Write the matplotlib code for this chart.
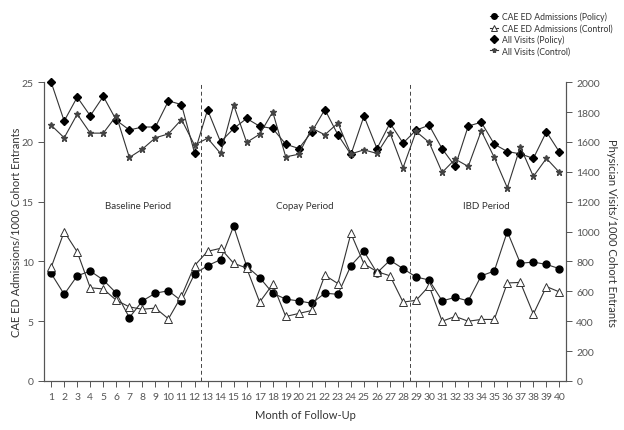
import numpy as np
import matplotlib
matplotlib.use("Agg")
import matplotlib.pyplot as plt

plt.rcParams['font.family'] = ['Lato', 'DejaVu Sans']

meses = list(range(1, 41))

# CAE ED admissions / 1000 cohort entrants (eje izquierdo)
cae_politica = [9.0, 7.25, 8.8, 9.2, 8.45, 7.35, 5.3, 6.7, 7.35, 7.55, 6.7, 8.95,
                9.65, 10.15, 12.95, 9.6, 8.65, 7.35, 6.85, 6.7, 6.5, 7.35, 7.25, 9.65,
                10.85, 9.05, 10.1, 9.4, 8.7, 8.45, 6.7, 7.0, 6.7, 8.8, 9.2, 12.5,
                9.85, 9.95, 9.75, 9.4]
cae_control = [9.5, 12.5, 10.8, 7.8, 7.7, 6.75, 6.2, 6.0, 6.1, 5.2, 7.1, 9.65,
               10.85, 11.1, 9.85, 9.45, 6.6, 8.1, 5.4, 5.65, 5.9, 8.85, 8.15, 12.35,
               9.8, 9.15, 8.8, 6.6, 6.75, 7.95, 5.0, 5.4, 5.0, 5.15, 5.15, 8.2,
               8.25, 5.6, 7.9, 7.45]

# Visitas médicas / 1000 cohort entrants (eje derecho)
visitas_politica = [2000, 1740, 1900, 1775, 1905, 1745, 1680, 1700, 1700, 1875, 1850, 1527,
                    1815, 1600, 1690, 1757, 1705, 1690, 1585, 1556, 1668, 1817, 1648, 1516,
                    1773, 1556, 1726, 1592, 1679, 1712, 1554, 1436, 1706, 1732, 1585, 1536,
                    1520, 1490, 1668, 1532]
visitas_control = [1712, 1628, 1786, 1659, 1659, 1775, 1496, 1552, 1628, 1654, 1750, 1579,
                   1625, 1523, 1848, 1597, 1652, 1801, 1500, 1518, 1692, 1648, 1726, 1520,
                   1547, 1523, 1659, 1427, 1670, 1597, 1396, 1485, 1436, 1674, 1496, 1293,
                   1567, 1369, 1490, 1396]

periodos = ["Baseline Period", "Copay Period", "IBD Period"]
pos_periodos = [7.7, 20.5, 34.4]
cortes = [12.5, 28.5]

gris = '#555555'
linea = '#333333'

fig = plt.figure(figsize=(6.24, 4.31), dpi=100)
ax = fig.add_axes([0.0705, 0.1137, 0.8365, 0.6933])
ax2 = ax.twinx()

l1, = ax.plot(meses, cae_politica, color=linea, lw=0.8, marker='o', ms=5,
              mfc='black', mec='black', label='CAE ED Admissions (Policy)')
l2, = ax.plot(meses, cae_control, color=linea, lw=0.8, marker='^', ms=6,
              mfc='white', mec=linea, mew=0.7, label='CAE ED Admissions (Control)')
l3, = ax2.plot(meses, visitas_politica, color=linea, lw=0.8, marker='D', ms=4.5,
               mfc='black', mec='black', label='All Visits (Policy)', clip_on=False)
l4, = ax2.plot(meses, visitas_control, color=linea, lw=0.8, marker='*', ms=4.5,
               mfc='#444444', mec='#444444', label='All Visits (Control)')

# lineas divisorias de periodos
for c in cortes:
    ax.axvline(c, color='#444444', lw=0.7, ls=(0, (4, 3)))

for txt, xp in zip(periodos, pos_periodos):
    ax.text(xp, 14.7, txt, ha='center', va='center', fontsize=7, color='#333333')

ax.set_xlim(0.45, 40.5)
ax.set_ylim(0, 25)
ax2.set_ylim(0, 2000)
ax.set_xticks(meses)
ax.set_yticks([0, 5, 10, 15, 20, 25])
ax2.set_yticks([0, 200, 400, 600, 800, 1000, 1200, 1400, 1600, 1800, 2000])

for a in (ax, ax2):
    a.spines['top'].set_visible(False)
    for s in a.spines.values():
        s.set_color(gris)
        s.set_linewidth(0.8)
    a.tick_params(colors=gris, labelsize=7.5, length=4, width=0.7, direction='out')
ax.tick_params(axis='x', labelsize=7.5, pad=4)

ax.set_xlabel('Month of Follow-Up', fontsize=8, color='#333333', labelpad=6)
ax.set_ylabel('CAE ED Admissions/1000 Cohort Entrants', fontsize=8, color='#333333',
              labelpad=0)
ax2.set_ylabel('Physician Visits/1000 Cohort Entrants', fontsize=8, color='#333333',
               rotation=270, labelpad=12)

fig.legend(handles=[l1, l2, l3, l4], loc='upper left', bbox_to_anchor=(0.785, 0.97),
           frameon=False, fontsize=6.2, handlelength=1.0, handletextpad=0.4,
           labelspacing=0.25, markerscale=0.8, labelcolor='#333333',
           borderpad=0, borderaxespad=0)

fig.savefig('out.png', dpi=100)
